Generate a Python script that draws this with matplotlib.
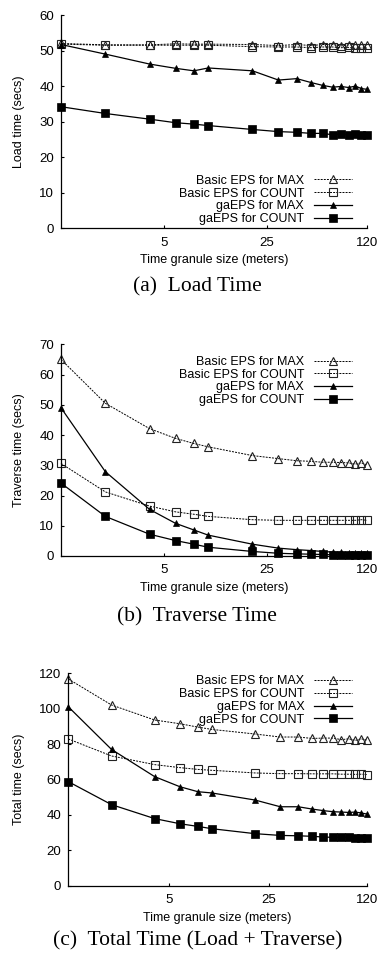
import matplotlib
matplotlib.use("Agg")
import matplotlib.pyplot as plt
from matplotlib.ticker import NullLocator, FixedLocator, FixedFormatter

plt.rcParams['font.family'] = ['Liberation Sans', 'DejaVu Sans']

granule = [1, 2, 4, 6, 8, 10, 20, 30, 40, 50, 60, 70, 80, 90, 100, 110, 120]

# (a) Load time
load_basic_max = [52.0, 51.6, 51.6, 51.9, 51.8, 51.8, 51.7, 51.4, 51.7, 51.4, 51.7, 51.7, 51.3, 51.6, 51.6, 51.6, 51.6]
load_basic_count = [51.8, 51.5, 51.5, 51.5, 51.5, 51.5, 51.1, 51.0, 51.0, 50.8, 51.0, 51.0, 50.8, 50.9, 50.6, 50.7, 50.7]
load_ga_max = [51.7, 49.0, 46.2, 45.0, 44.3, 45.1, 44.3, 41.7, 42.1, 41.0, 40.2, 39.7, 39.9, 39.6, 40.0, 39.3, 39.1]
load_ga_count = [34.2, 32.3, 30.7, 29.7, 29.3, 28.9, 27.8, 27.2, 27.0, 26.7, 26.7, 26.3, 26.6, 26.3, 26.6, 26.2, 26.2]

# (b) Traverse time
trav_basic_max = [65.0, 50.5, 42.1, 38.9, 37.2, 36.1, 33.2, 32.2, 31.5, 31.3, 31.0, 31.0, 30.9, 30.8, 30.4, 30.8, 30.1]
trav_basic_count = [30.6, 21.2, 16.5, 14.6, 13.8, 13.1, 12.0, 11.8, 11.8, 11.8, 11.8, 11.8, 11.8, 11.8, 11.8, 12.0, 11.8]
trav_ga_max = [49.0, 27.9, 15.4, 10.8, 8.6, 6.9, 3.9, 2.6, 2.1, 1.8, 1.5, 1.3, 1.2, 1.1, 1.0, 1.0, 0.9]
trav_ga_count = [24.1, 13.1, 7.2, 5.1, 3.9, 2.9, 1.5, 0.9, 0.7, 0.6, 0.5, 0.4, 0.3, 0.3, 0.3, 0.3, 0.3]

# (c) Total time
tot_basic_max = [116.8, 102.1, 93.6, 91.5, 89.6, 88.3, 85.7, 84.0, 84.0, 83.2, 83.4, 83.4, 82.5, 83.0, 82.1, 83.0, 82.3]
tot_basic_count = [82.9, 73.3, 68.4, 66.7, 65.7, 65.2, 63.7, 63.3, 63.3, 63.2, 63.2, 63.2, 63.0, 63.0, 62.9, 63.0, 62.8]
tot_ga_max = [101.1, 77.0, 61.6, 55.9, 53.1, 52.4, 48.4, 44.6, 44.6, 43.3, 42.4, 41.8, 41.6, 41.4, 41.6, 41.1, 40.5]
tot_ga_count = [58.8, 45.8, 37.9, 35.0, 33.5, 32.2, 29.4, 28.4, 28.2, 27.9, 27.5, 27.3, 27.3, 27.3, 27.2, 26.8, 26.8]

series_labels = ["Basic EPS for MAX", "Basic EPS for COUNT", "gaEPS for MAX", "gaEPS for COUNT"]
xtick_vals = [5, 25, 120]
xtick_labels = ["5", "25", "120"]

W, H = 381, 958
fig = plt.figure(figsize=(W / 100, H / 100), dpi=100)

def px_axes(left, top, right, bottom):
    return fig.add_axes([left / W, 1 - bottom / H, (right - left) / W, (bottom - top) / H])

panels = [
    dict(rect=(61, 15, 367, 228.3), data=(load_basic_max, load_basic_count, load_ga_max, load_ga_count),
         ylim=(0, 60), yticks=range(0, 61, 10), ylabel="Load time (secs)",
         caption="(a)  Load Time", cap_y=287, leg=('lower right', (0.95, 0.015))),
    dict(rect=(61, 344.3, 367, 556), data=(trav_basic_max, trav_basic_count, trav_ga_max, trav_ga_count),
         ylim=(0, 70), yticks=range(0, 71, 10), ylabel="Traverse time (secs)",
         caption="(b)  Traverse Time", cap_y=617, leg=('upper right', (0.95, 0.945))),
    dict(rect=(68.3, 673.3, 366.7, 885.7), data=(tot_basic_max, tot_basic_count, tot_ga_max, tot_ga_count),
         ylim=(0, 120), yticks=range(0, 121, 20), ylabel="Total time (secs)",
         caption="(c)  Total Time (Load + Traverse)", cap_y=941, leg=('upper right', (0.95, 0.99))),
]

styles = [
    dict(color='black', linestyle=(0, (2, 1.2)), linewidth=0.7, marker='^', markersize=5.5,
         markerfacecolor='none', markeredgecolor='#222222', markeredgewidth=0.8),
    dict(color='black', linestyle=(0, (2, 1.2)), linewidth=0.7, marker='s', markersize=5.5,
         markerfacecolor='none', markeredgecolor='#222222', markeredgewidth=0.8),
    dict(color='black', linestyle='-', linewidth=0.9, marker='^', markersize=4.5,
         markerfacecolor='black', markeredgecolor='black', markeredgewidth=0.5),
    dict(color='black', linestyle='-', linewidth=0.9, marker='s', markersize=6,
         markerfacecolor='black', markeredgecolor='black', markeredgewidth=0.5),
]

for p in panels:
    ax = px_axes(*p['rect'])
    for ys, lab, st in zip(p['data'], series_labels, styles):
        ax.plot(granule, ys, label=lab, clip_on=False, **st)
    ax.set_xscale('log')
    ax.set_xlim(1, 120)
    ax.set_ylim(*p['ylim'])
    ax.xaxis.set_major_locator(FixedLocator(xtick_vals))
    ax.xaxis.set_major_formatter(FixedFormatter(xtick_labels))
    ax.xaxis.set_minor_locator(NullLocator())
    ax.set_yticks(list(p['yticks']))
    for s in ('top', 'right'):
        ax.spines[s].set_visible(False)
    for s in ('left', 'bottom'):
        ax.spines[s].set_linewidth(0.9)
    ax.tick_params(direction='in', length=2.5, width=0.8, labelsize=9.5)
    ax.tick_params(axis='x', pad=6)
    ax.tick_params(axis='y', pad=5)
    ax.set_xlabel("Time granule size (meters)", fontsize=9, labelpad=4)
    ax.set_ylabel(p['ylabel'], fontsize=9, labelpad=10)
    loc, anchor = p['leg']
    leg = ax.legend(loc=loc, bbox_to_anchor=anchor, frameon=False, fontsize=9,
                    markerfirst=False, handlelength=3.0, handletextpad=0.8,
                    labelspacing=0.06, borderpad=0, borderaxespad=0)
    fig.text(0.518, 1 - p['cap_y'] / H, p['caption'], ha='center', va='center',
             fontsize=15.5, family=['Liberation Serif', 'DejaVu Serif'])

fig.savefig("out.png", dpi=100)
